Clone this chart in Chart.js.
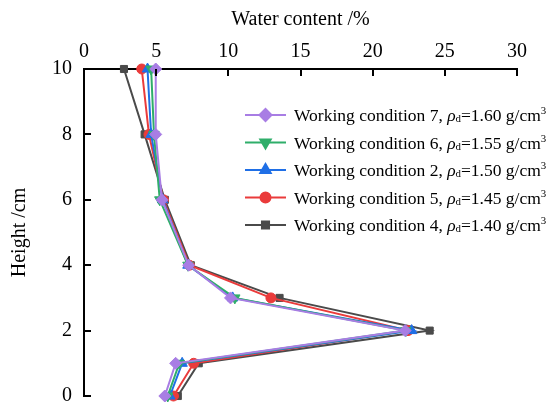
<!DOCTYPE html>
<html>
<head>
<meta charset="utf-8">
<script src="https://cdn.jsdelivr.net/npm/chart.js@4.4.1/dist/chart.umd.min.js"></script>
<style>
  html, body { margin: 0; padding: 0; background: #fff; }
  #wrap { width: 549px; height: 405px; }
</style>
</head>
<body>
<div id="wrap"><canvas id="chart" width="549" height="405"></canvas></div>
<script>
// heights (cm) and water content (%) per working condition
const heights = [10, 8, 6, 4, 3, 2, 1, 0];
const cond7 = [4.97, 4.97, 5.4, 7.25, 10.15, 22.25, 6.35, 5.6];
const cond6 = [4.65, 4.85, 5.25, 7.2, 10.45, 22.3, 6.6, 5.8];
const cond2 = [4.4, 4.65, 5.45, 7.2, 10.3, 22.7, 6.8, 5.95];
const cond5 = [4.0, 4.5, 5.5, 7.3, 12.95, 22.45, 7.6, 6.2];
const cond4 = [2.77, 4.2, 5.6, 7.4, 13.55, 23.95, 7.95, 6.5];

const seriesNames = ['Working condition 7', 'Working condition 6', 'Working condition 2',
  'Working condition 5', 'Working condition 4'];
const densities = ['1.60', '1.55', '1.50', '1.45', '1.40'];
const xTicks = [0, 5, 10, 15, 20, 25, 30];
const yTicks = [0, 2, 4, 6, 8, 10];

const colors = ['#a87de4', '#2fae6a', '#1f6fe6', '#ea3b3b', '#4a4a4a'];
const shapes = ['rectRot', 'triangle', 'triangle', 'circle', 'rect'];
const rotations = [0, 180, 0, 0, 0];
const radii = [6, 6, 6, 5, 5];

const FONT = '"Liberation Serif", "Times New Roman", serif';

function toPoints(vals) {
  return vals.map((v, i) => ({ x: v, y: heights[i] }));
}

const allSeries = [cond7, cond6, cond2, cond5, cond4];

const datasets = allSeries.map((vals, i) => ({
  label: seriesNames[i],
  data: toPoints(vals),
  showLine: true,
  borderColor: colors[i],
  backgroundColor: colors[i],
  borderWidth: 2,
  pointStyle: shapes[i],
  rotation: rotations[i],
  pointRadius: radii[i],
  pointBorderWidth: 1,
  tension: 0,
  clip: false
}));

// ticks that point into the plot area
const inwardTicks = {
  id: 'inwardTicks',
  afterDraw(chart) {
    const ctx = chart.ctx;
    const area = chart.chartArea;
    const xs = chart.scales.x, ys = chart.scales.y;
    ctx.save();
    ctx.strokeStyle = '#000';
    ctx.lineWidth = 2;
    ctx.beginPath();
    xTicks.forEach(v => {
      const px = Math.round(xs.getPixelForValue(v));
      ctx.moveTo(px, area.top);
      ctx.lineTo(px, area.top + 7);
    });
    yTicks.forEach(v => {
      const py = Math.round(ys.getPixelForValue(v));
      ctx.moveTo(area.left, py);
      ctx.lineTo(area.left + 7, py);
    });
    ctx.stroke();
    ctx.restore();
  }
};

// legend drawn by hand so the rho/subscript/superscript can be set
const richLegend = {
  id: 'richLegend',
  afterDraw(chart) {
    const ctx = chart.ctx;
    const x0 = 245, x1 = 286, tx = 294;
    const rowY = [115, 142.5, 170, 197.5, 225];
    const size = 17.5;
    ctx.save();
    datasets.forEach((ds, i) => {
      const y = rowY[i];
      ctx.strokeStyle = ds.borderColor;
      ctx.lineWidth = 2;
      ctx.beginPath();
      ctx.moveTo(x0, y);
      ctx.lineTo(x1, y);
      ctx.stroke();
      ctx.fillStyle = ds.backgroundColor;
      Chart.helpers.drawPoint(ctx, {
        pointStyle: ds.pointStyle, rotation: ds.rotation,
        radius: ds.pointRadius, borderWidth: 1
      }, (x0 + x1) / 2, y);

      ctx.fillStyle = '#000';
      ctx.textBaseline = 'alphabetic';
      ctx.textAlign = 'left';
      const base = y + 6;
      let x = tx;
      ctx.font = size + 'px ' + FONT;
      const t1 = seriesNames[i] + ', ';
      ctx.fillText(t1, x, base);
      x += ctx.measureText(t1).width;
      ctx.font = 'italic ' + size + 'px ' + FONT;
      ctx.fillText('ρ', x, base);
      x += ctx.measureText('ρ').width;
      ctx.font = (size * 0.62) + 'px ' + FONT;
      ctx.fillText('d', x, base + 1);
      x += ctx.measureText('d').width;
      ctx.font = size + 'px ' + FONT;
      const t2 = '=' + densities[i] + ' g/cm';
      ctx.fillText(t2, x, base);
      x += ctx.measureText(t2).width;
      ctx.font = (size * 0.62) + 'px ' + FONT;
      ctx.fillText('3', x, base - 7);
    });
    ctx.restore();
  }
};

new Chart(document.getElementById('chart'), {
  type: 'scatter',
  data: { datasets: datasets },
  options: {
    responsive: false,
    animation: false,
    layout: { padding: { left: 0, top: 0, right: 32, bottom: 9 } },
    plugins: {
      legend: { display: false },
      tooltip: { enabled: false }
    },
    scales: {
      x: {
        type: 'linear',
        position: 'top',
        min: 0, max: 30,
        afterFit(scale) {
          scale.height = 69;
          scale.paddingLeft = 0;
          scale.paddingRight = 0;
        },
        afterBuildTicks(scale) { scale.ticks = xTicks.map(v => ({ value: v })); },
        grid: { display: false, drawTicks: false },
        border: { display: true, color: '#000', width: 2 },
        ticks: { color: '#000', padding: 5, font: { family: FONT, size: 20 } },
        title: {
          display: true, text: 'Water content /%', color: '#000',
          padding: { top: 8, bottom: 0 },
          font: { family: FONT, size: 20 }
        }
      },
      y: {
        type: 'linear',
        min: 0, max: 10,
        afterFit(scale) {
          scale.width = 84;
          scale.paddingTop = 0;
          scale.paddingBottom = 0;
        },
        afterBuildTicks(scale) { scale.ticks = yTicks.map(v => ({ value: v })); },
        grid: { display: false, drawTicks: false },
        border: { display: true, color: '#000', width: 2 },
        ticks: { color: '#000', padding: 12, font: { family: FONT, size: 20 } },
        title: {
          display: true, text: 'Height /cm', color: '#000',
          padding: { top: 8, bottom: 0 },
          font: { family: FONT, size: 20 }
        }
      }
    }
  },
  plugins: [inwardTicks, richLegend]
});
</script>
</body>
</html>
